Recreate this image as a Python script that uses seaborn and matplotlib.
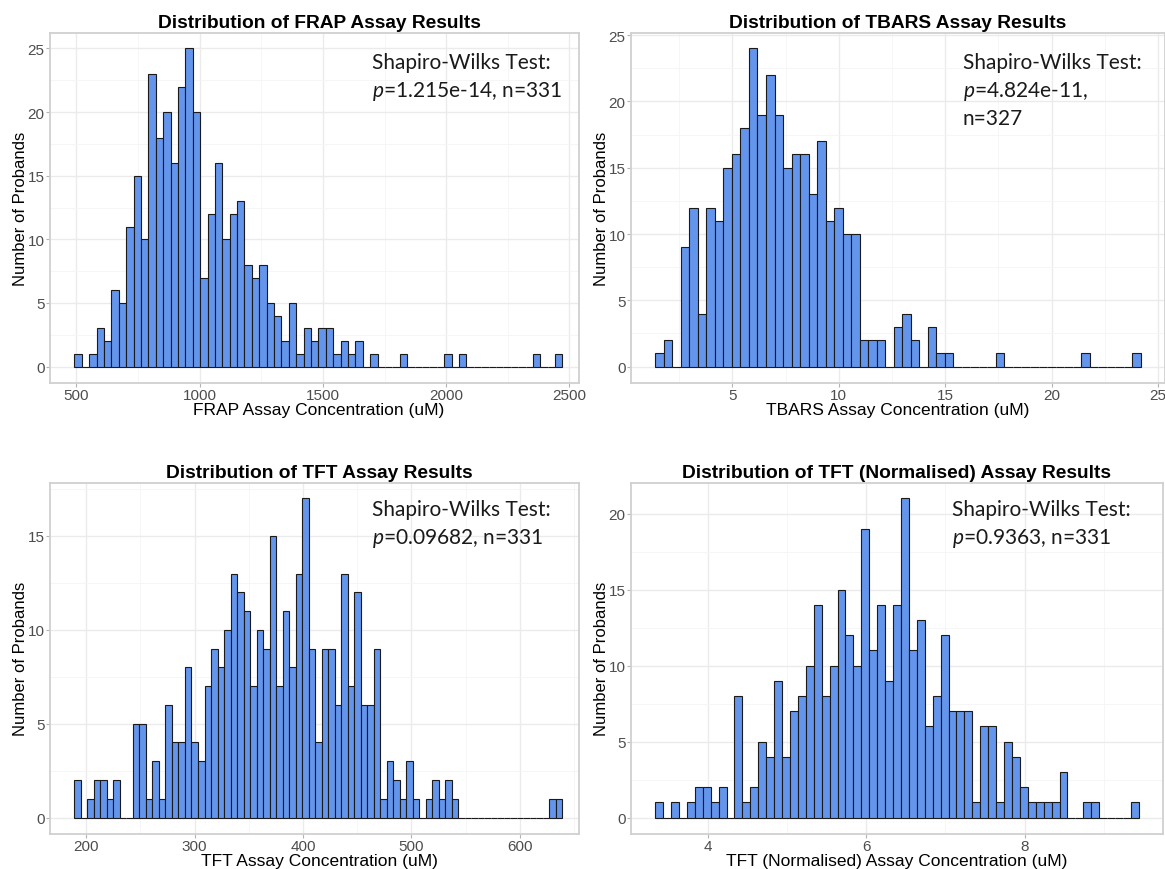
import numpy as np
import pandas as pd
import matplotlib
matplotlib.use("Agg")
import matplotlib.pyplot as plt
import seaborn as sns
from matplotlib.ticker import MultipleLocator

# ---------------- data ----------------
FRAP_START, FRAP_WIDTH = 492.0, 30.0
FRAP_COUNTS = [1, 0, 1, 3, 2, 6, 5, 11, 15, 10, 23, 18, 20, 16, 22, 25, 20, 7, 12, 16,
               10, 12, 13, 8, 7, 8, 5, 4, 2, 5, 1, 3, 2, 3, 3, 1, 2, 1, 2, 0,
               1, 0, 0, 0, 1, 0, 0, 0, 0, 0, 1, 0, 1, 0, 0, 0, 0, 0, 0, 0,
               0, 0, 1, 0, 0, 1]

TBARS_START, TBARS_WIDTH = 1.38, 0.4
TBARS_COUNTS = [1, 2, 0, 9, 12, 4, 12, 11, 15, 16, 18, 24, 19, 22, 19, 15, 16, 16, 13, 17,
                11, 12, 10, 10, 2, 2, 2, 0, 3, 4, 2, 0, 3, 1, 1, 0, 0, 0, 0, 0,
                1, 0, 0, 0, 0, 0, 0, 0, 0, 0, 1, 0, 0, 0, 0, 0, 1]

TFT_START, TFT_WIDTH = 189.2, 6.0
TFT_COUNTS = [2, 0, 1, 2, 2, 1, 2, 0, 0, 5, 5, 1, 3, 1, 6, 4, 4, 8, 4, 3,
              7, 9, 8, 10, 13, 12, 11, 7, 10, 9, 15, 7, 11, 8, 13, 17, 9, 4, 9, 9,
              6, 13, 7, 12, 6, 6, 9, 1, 3, 2, 1, 3, 1, 0, 1, 2, 1, 2, 1, 0,
              0, 0, 0, 0, 0, 0, 0, 0, 0, 0, 0, 0, 0, 1, 1]

TFTN_START, TFTN_WIDTH = 3.34, 0.1
TFTN_COUNTS = [1, 0, 1, 0, 1, 2, 2, 1, 2, 0, 8, 1, 2, 5, 4, 9, 4, 7, 8, 10,
               14, 8, 10, 15, 12, 10, 19, 11, 14, 9, 14, 21, 11, 13, 6, 8, 12, 7, 7, 7,
               1, 6, 6, 1, 5, 4, 2, 1, 1, 1, 1, 3, 0, 0, 1, 1, 0, 0, 0, 0, 1]

TITLES = ["Distribution of FRAP Assay Results",
          "Distribution of TBARS Assay Results",
          "Distribution of TFT Assay Results",
          "Distribution of TFT (Normalised) Assay Results"]
XLABELS = ["FRAP Assay Concentration (uM)",
           "TBARS Assay Concentration (uM)",
           "TFT Assay Concentration (uM)",
           "TFT (Normalised) Assay Concentration (uM)"]
YLABEL = "Number of Probands"
NOTES = [["Shapiro-Wilks Test:", "$p$=1.215e-14, n=331"],
         ["Shapiro-Wilks Test:", "$p$=4.824e-11,", "n=327"],
         ["Shapiro-Wilks Test:", "$p$=0.09682, n=331"],
         ["Shapiro-Wilks Test:", "$p$=0.9363, n=331"]]

# ---------------- style ----------------
sns.set_theme(style="whitegrid")
plt.rcParams['font.family'] = ['Liberation Sans', 'DejaVu Sans']
plt.rcParams['mathtext.fontset'] = 'custom'
plt.rcParams['mathtext.it'] = 'Lato:italic'
plt.rcParams['mathtext.rm'] = 'Lato'

W, H = 1165, 870
fig = plt.figure(figsize=(W / 100, H / 100), dpi=100)
fig.patch.set_facecolor('white')


def fx(px):
    return px / W


def fy(py):
    return 1 - py / H


layout = [
    dict(box=(50, 579, 33.5, 383.5), xlim=(393, 2539), ylim=(-1.25, 26.25), xmaj=500, xmin=250,
         center=319, ylab_x=28, note_x=371.7, note_y=[69, 97]),
    dict(box=(631, 1165, 33.5, 383.5), xlim=(0.24, 25.32), ylim=(-1.2, 25.2), xmaj=5, xmin=2.5,
         center=898, ylab_x=609, note_x=963, note_y=[69, 97, 125]),
    dict(box=(50, 579, 483.5, 834.5), xlim=(166.7, 654.6), ylim=(-0.85, 17.85), xmaj=100, xmin=50,
         center=319, ylab_x=28, note_x=371.7, note_y=[516, 544]),
    dict(box=(631, 1163, 483.5, 834.5), xlim=(3.035, 9.745), ylim=(-1.05, 22.05), xmaj=2, xmin=1,
         center=897, ylab_x=609, note_x=951.7, note_y=[516, 544]),
]
series = [(FRAP_START, FRAP_WIDTH, FRAP_COUNTS),
          (TBARS_START, TBARS_WIDTH, TBARS_COUNTS),
          (TFT_START, TFT_WIDTH, TFT_COUNTS),
          (TFTN_START, TFTN_WIDTH, TFTN_COUNTS)]

for i, (lay, (start, width, counts)) in enumerate(zip(layout, series)):
    l, r, t, b = lay['box']
    ax = fig.add_axes([fx(l), fy(b), (r - l) / W, (b - t) / H])
    nbins = len(counts)
    lo = start
    hi = start + width * nbins
    centers = lo + width * (np.arange(nbins) + 0.5)
    df = pd.DataFrame({"value": centers, "count": np.asarray(counts, dtype=float)})
    sns.histplot(data=df, x="value", weights="count", bins=nbins, binrange=(lo, hi), ax=ax,
                 color="#6495ED", edgecolor="#1a1a1a", linewidth=0.8, alpha=1)
    ax.set_xlim(*lay['xlim'])
    ax.set_ylim(*lay['ylim'])
    ax.xaxis.set_major_locator(MultipleLocator(lay['xmaj']))
    ax.xaxis.set_minor_locator(MultipleLocator(lay['xmin']))
    ax.yaxis.set_major_locator(MultipleLocator(5))
    ax.yaxis.set_minor_locator(MultipleLocator(2.5))
    ax.set_axisbelow(True)
    ax.grid(which='major', color='#ebebeb', linewidth=1.0)
    ax.grid(which='minor', color='#f5f5f5', linewidth=0.6)
    for s in ax.spines.values():
        s.set_visible(True)
        s.set_color('#d0d0d0')
        s.set_linewidth(1.3)
    ax.tick_params(axis='both', which='major', bottom=True, left=True, length=3, width=0.8,
                   color='#b3b3b3', labelsize=11, labelcolor='#4d4d4d', pad=1)
    ax.tick_params(axis='both', which='minor', length=0)
    cx = (lay['center'] - l) / (r - l)
    ax.set_title(TITLES[i], fontsize=13.8, fontweight='bold', color='black', pad=4.3, x=cx)
    ax.set_xlabel(XLABELS[i], fontsize=12.5, color='black')
    ax.set_ylabel(YLABEL, fontsize=12, color='black')
    ax.xaxis.set_label_coords(cx, -20.0 / (b - t))
    ax.yaxis.set_label_coords((lay['ylab_x'] - l) / (r - l), 0.5)
    for line, py in zip(NOTES[i], lay['note_y']):
        fig.text(fx(lay['note_x']), fy(py), line, fontsize=15, family='Lato',
                 color='#1a1a1a', ha='left', va='baseline')

fig.savefig("out.png", dpi=100, facecolor='white')
